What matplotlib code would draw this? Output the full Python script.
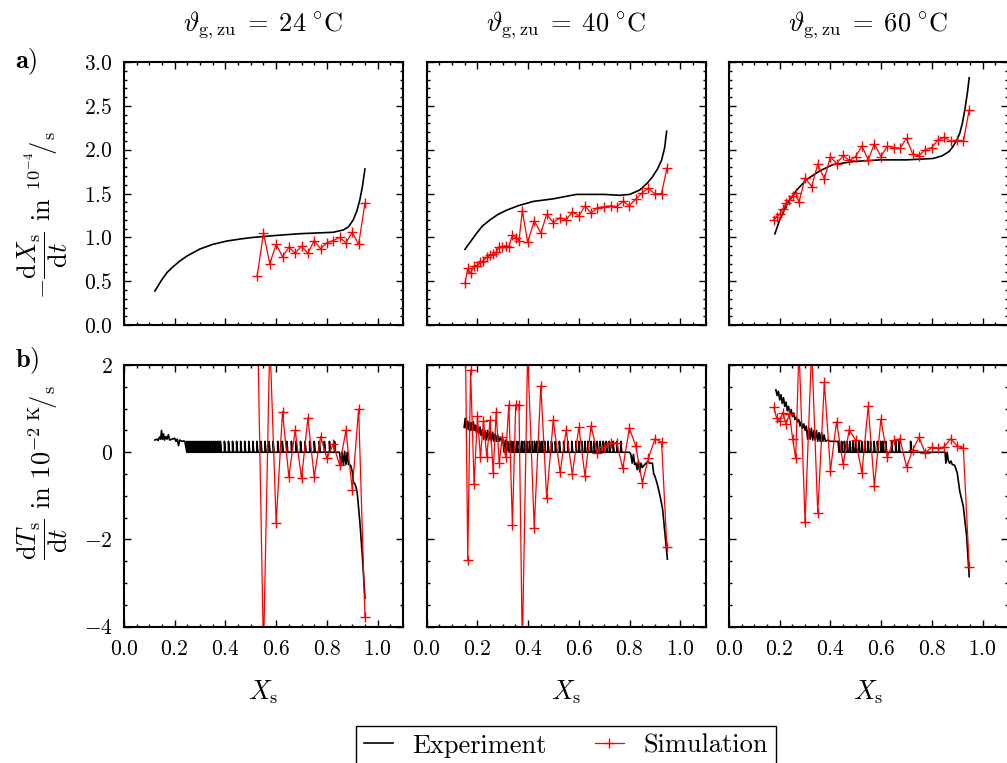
import matplotlib
matplotlib.use("Agg")
import matplotlib.pyplot as plt
from matplotlib.ticker import MultipleLocator

plt.rcParams["font.family"] = "serif"
plt.rcParams["font.serif"] = ["cmr10"]
plt.rcParams["mathtext.fontset"] = "cm"
plt.rcParams["axes.formatter.use_mathtext"] = True

# column titles (inlet gas temperature)
temps = ["24", "40", "60"]

# ---- row a): drying rate, experiment ----
exp_a_x = [
    [0.122, 0.135, 0.15, 0.17, 0.194, 0.22, 0.25, 0.30, 0.35, 0.405, 0.46, 0.51,
     0.6, 0.694, 0.76, 0.825, 0.865, 0.885, 0.904, 0.918, 0.93, 0.94, 0.95],
    [0.151, 0.175, 0.197, 0.22, 0.25, 0.28, 0.315, 0.36, 0.42, 0.5, 0.59, 0.70,
     0.76, 0.80, 0.84, 0.87, 0.89, 0.91, 0.926, 0.938, 0.946],
    [0.181, 0.20, 0.227, 0.267, 0.306, 0.359, 0.41, 0.49, 0.595, 0.70, 0.805,
     0.84, 0.868, 0.884, 0.90, 0.91, 0.92, 0.93, 0.94, 0.947],
]
exp_a_y = [
    [0.388, 0.45, 0.52, 0.60, 0.666, 0.73, 0.79, 0.868, 0.92, 0.958, 0.982, 1.0,
     1.022, 1.042, 1.05, 1.058, 1.085, 1.12, 1.2, 1.3, 1.43, 1.58, 1.78],
    [0.864, 0.96, 1.047, 1.13, 1.2, 1.26, 1.31, 1.36, 1.41, 1.44, 1.49, 1.49,
     1.48, 1.49, 1.54, 1.62, 1.69, 1.78, 1.88, 2.02, 2.21],
    [1.04, 1.2, 1.37, 1.54, 1.66, 1.76, 1.83, 1.865, 1.884, 1.884, 1.90, 1.93,
     1.98, 2.04, 2.12, 2.19, 2.3, 2.46, 2.65, 2.82],
]

# ---- simulation X positions (shared by both rows of a column) ----
sim_x = [
    [0.525, 0.55, 0.575, 0.60, 0.625, 0.65, 0.675, 0.70, 0.725, 0.75, 0.775,
     0.80, 0.825, 0.85, 0.875, 0.90, 0.925, 0.95],
    [0.151, 0.162, 0.173, 0.187, 0.200, 0.212, 0.224, 0.237, 0.250, 0.262,
     0.274, 0.286, 0.298, 0.311, 0.324, 0.338, 0.351, 0.364, 0.377, 0.398,
     0.424, 0.450, 0.473, 0.499, 0.526, 0.550, 0.574, 0.600, 0.624, 0.648,
     0.673, 0.700, 0.725, 0.749, 0.773, 0.799, 0.824, 0.850, 0.874, 0.900,
     0.926, 0.947],
    [0.177, 0.188, 0.20, 0.212, 0.225, 0.238, 0.251, 0.263, 0.276, 0.30, 0.326,
     0.35, 0.376, 0.40, 0.424, 0.45, 0.474, 0.499, 0.524, 0.549, 0.573, 0.599,
     0.624, 0.65, 0.674, 0.70, 0.724, 0.749, 0.773, 0.80, 0.823, 0.849, 0.874,
     0.899, 0.924, 0.947],
]
sim_a_y = [
    [0.56, 1.047, 0.70, 0.92, 0.78, 0.887, 0.82, 0.90, 0.82, 0.963, 0.87, 0.94,
     0.963, 1.0, 0.94, 1.058, 0.92, 1.39],
    [0.476, 0.647, 0.59, 0.678, 0.678, 0.716, 0.735, 0.773, 0.80, 0.81, 0.83,
     0.895, 0.895, 0.906, 0.895, 1.028, 0.997, 0.963, 1.306, 0.944, 1.19,
     1.047, 1.264, 1.169, 1.226, 1.2, 1.29, 1.245, 1.359, 1.275, 1.34, 1.35,
     1.359, 1.35, 1.41, 1.363, 1.435, 1.51, 1.56, 1.496, 1.50, 1.79],
    [1.2, 1.237, 1.264, 1.325, 1.39, 1.427, 1.473, 1.51, 1.40, 1.675, 1.58,
     1.835, 1.667, 1.922, 1.84, 1.934, 1.877, 1.922, 2.04, 1.884, 2.067, 1.922,
     2.04, 2.025, 2.017, 2.13, 1.95, 1.93, 2.0, 2.025, 2.11, 2.143, 2.094, 2.11,
     2.094, 2.455],
]
sim_b_y = [
    [3.5, -4.6, 2.6, -1.62, 0.93, -0.56, 0.50, -0.60, 0.78, -0.56, 0.36, -0.14,
     0.19, -0.29, 0.50, -0.86, 0.99, -3.78],
    [3.5, -2.48, 1.89, -0.73, 0.82, -0.10, 0.72, -0.10, 0.74, -0.47, 0.92,
     -0.25, 0.36, -0.10, 1.09, -1.67, 1.09, 1.09, -4.5, 2.3, -1.73, 1.53, -1.05,
     0.74, -0.46, 0.51, -0.50, 0.57, -0.54, 0.60, -0.01, 0.11, 0.21, 0.22,
     -0.37, 0.55, 0.15, -0.70, -0.14, 0.31, 0.23, -2.18],
    [1.03, 0.78, 0.72, 0.91, 0.65, 0.88, 0.31, -0.14, 2.4, -1.61, 2.4, -1.40,
     1.60, -0.42, 0.70, -0.27, 0.51, 0.28, -0.47, 1.06, -0.77, 0.76, -0.11,
     0.27, 0.31, -0.34, 0.05, 0.34, -0.01, 0.11, 0.09, 0.13, 0.31, 0.15, 0.09,
     -2.62],
]

# ---- row b): temperature rate, experiment (noisy start, quantisation spikes, drop) ----
exp_b_pre_x = [
    [0.122, 0.13, 0.135, 0.14, 0.145, 0.148, 0.152, 0.156, 0.16, 0.165, 0.17,
     0.175, 0.18, 0.19, 0.2, 0.205, 0.21, 0.215, 0.22, 0.225, 0.23, 0.235, 0.24],
    [0.148, 0.152, 0.156, 0.16, 0.164, 0.168, 0.172, 0.176, 0.18, 0.184, 0.188,
     0.192, 0.196, 0.2, 0.205, 0.21, 0.215, 0.22, 0.225, 0.23, 0.235, 0.24,
     0.245, 0.25, 0.255, 0.26, 0.265, 0.27, 0.275, 0.28, 0.285, 0.29, 0.295,
     0.3, 0.305, 0.31, 0.315, 0.32, 0.325, 0.33],
    [0.185, 0.19, 0.195, 0.2, 0.205, 0.21, 0.215, 0.22, 0.225, 0.23, 0.235,
     0.24, 0.245, 0.25, 0.255, 0.26, 0.265, 0.27, 0.275, 0.28, 0.285, 0.29,
     0.295, 0.30, 0.305, 0.31, 0.315, 0.32, 0.325, 0.33, 0.335, 0.34, 0.345,
     0.35, 0.355, 0.36, 0.365, 0.37, 0.375, 0.38, 0.39, 0.40, 0.41, 0.42, 0.43],
]
exp_b_pre_y = [
    [0.28, 0.30, 0.27, 0.35, 0.30, 0.50, 0.30, 0.42, 0.28, 0.36, 0.30, 0.40,
     0.28, 0.30, 0.32, 0.25, 0.30, 0.15, 0.28, 0.26, 0.25, 0.26, 0.25],
    [0.57, 0.78, 0.55, 0.72, 0.52, 0.70, 0.50, 0.68, 0.50, 0.70, 0.50, 0.62,
     0.45, 0.60, 0.42, 0.58, 0.38, 0.52, 0.30, 0.50, 0.28, 0.50, 0.28, 0.48,
     0.25, 0.46, 0.25, 0.42, 0.25, 0.40, 0.25, 0.35, 0.25, 0.30, 0.0, 0.28,
     0.0, 0.25, 0.0, 0.25],
    [1.43, 1.3, 1.4, 1.2, 1.32, 1.12, 1.25, 1.05, 1.15, 0.95, 1.05, 0.9, 0.98,
     0.82, 0.9, 0.75, 0.8, 0.7, 0.75, 0.6, 0.7, 0.55, 0.65, 0.5, 0.6, 0.3,
     0.55, 0.3, 0.55, 0.28, 0.5, 0.28, 0.5, 0.25, 0.45, 0.25, 0.45, 0.25, 0.4,
     0.25, 0.28, 0.25, 0.25, 0.25, 0.25],
]
spike_x = [
    [0.248, 0.256, 0.264, 0.272, 0.28, 0.288, 0.296, 0.304, 0.312, 0.32, 0.328,
     0.336, 0.344, 0.352, 0.36, 0.368, 0.374, 0.38, 0.396, 0.412, 0.428, 0.444,
     0.46, 0.476, 0.492, 0.508, 0.524, 0.54, 0.556, 0.572, 0.588, 0.606, 0.624,
     0.642, 0.66, 0.678, 0.696, 0.714, 0.732, 0.75, 0.77, 0.79, 0.81, 0.83],
    [0.335, 0.345, 0.355, 0.365, 0.375, 0.385, 0.395, 0.405, 0.415, 0.425,
     0.435, 0.445, 0.455, 0.465, 0.478, 0.492, 0.507, 0.523, 0.54, 0.556,
     0.572, 0.588, 0.60, 0.612, 0.624, 0.636, 0.648, 0.66, 0.672, 0.684, 0.696,
     0.708, 0.72, 0.735, 0.75, 0.765],
    [0.434, 0.444, 0.455, 0.466, 0.477, 0.489, 0.499, 0.512, 0.523, 0.535,
     0.547, 0.558, 0.572, 0.585, 0.598, 0.607, 0.618, 0.641, 0.657, 0.67, 0.716],
]
spike_h = 0.25
exp_b_post_x = [
    [0.85, 0.855, 0.86, 0.865, 0.87, 0.875, 0.88, 0.885, 0.89, 0.895, 0.90,
     0.905, 0.91, 0.915, 0.92, 0.93, 0.94, 0.95],
    [0.80, 0.805, 0.81, 0.815, 0.82, 0.825, 0.83, 0.835, 0.84, 0.845, 0.85,
     0.86, 0.87, 0.88, 0.89, 0.895, 0.90, 0.91, 0.92, 0.93, 0.94, 0.949],
    [0.84, 0.852, 0.855, 0.86, 0.865, 0.87, 0.875, 0.88, 0.89, 0.90, 0.91,
     0.924, 0.937, 0.947],
]
exp_b_post_y = [
    [0, -0.28, 0, -0.3, 0.02, -0.28, 0, -0.28, -0.28, -0.32, -0.45, -0.7,
     -0.72, -0.8, -0.95, -1.6, -2.4, -3.35],
    [0, -0.05, -0.25, -0.05, -0.28, -0.25, -0.4, -0.2, -0.45, -0.25, -0.35,
     -0.28, -0.22, -0.25, -0.25, -0.5, -0.55, -0.75, -1.0, -1.3, -1.9, -2.45],
    [0, 0, -0.25, 0, -0.2, -0.25, -0.2, -0.28, -0.3, -0.48, -0.9, -1.25, -1.93,
     -2.85],
]


def exp_b_curve(i):
    xs, ys = list(exp_b_pre_x[i]), list(exp_b_pre_y[i])
    for s in spike_x[i]:
        xs += [s, s, s + 0.004]
        ys += [0, spike_h, 0]
    xs += exp_b_post_x[i]
    ys += exp_b_post_y[i]
    return xs, ys


fig = plt.figure(figsize=(10.07, 7.63), dpi=100)
lefts = [0.1231, 0.4237, 0.7239]
w = 0.2771
EXP = dict(color="black", lw=1.2)
SIM = dict(color="red", lw=0.9, marker="+", ms=7, mew=1.0)


def style(ax):
    ax.tick_params(which="both", direction="in", top=True, right=True,
                   labelsize=15.5, width=1.0)
    ax.tick_params(which="major", length=5)
    ax.tick_params(which="minor", length=2.5)
    ax.tick_params(axis="x", pad=9)
    ax.tick_params(axis="y", pad=8)
    for sp in ax.spines.values():
        sp.set_linewidth(1.5)
    ax.set_xlim(0, 1.1)
    ax.xaxis.set_major_locator(MultipleLocator(0.2))
    ax.xaxis.set_minor_locator(MultipleLocator(0.05))


for i in range(3):
    ax = fig.add_axes([lefts[i], 0.574, w, 0.3447])
    ax.plot(exp_a_x[i], exp_a_y[i], **EXP)
    ax.plot(sim_x[i], sim_a_y[i], **SIM)
    style(ax)
    ax.set_ylim(0, 3.0)
    ax.yaxis.set_major_locator(MultipleLocator(0.5))
    ax.yaxis.set_minor_locator(MultipleLocator(0.1))
    ax.set_xticklabels([])
    if i > 0:
        ax.set_yticklabels([])
    ax.set_title(r"$\vartheta_{\mathrm{g,zu}}\;=\;%s\;^{\circ}\mathrm{C}$" % temps[i],
                 fontsize=19, pad=22)

    bx = fig.add_axes([lefts[i], 0.1786, w, 0.343])
    ex, ey = exp_b_curve(i)
    l1, = bx.plot(ex, ey, **EXP)
    l2, = bx.plot(sim_x[i], sim_b_y[i], **SIM)
    style(bx)
    bx.set_ylim(-4, 2)
    bx.yaxis.set_major_locator(MultipleLocator(2))
    bx.yaxis.set_minor_locator(MultipleLocator(0.5))
    if i > 0:
        bx.set_yticklabels([])
    bx.set_xlabel(r"$X_\mathrm{s}$", fontsize=19, labelpad=14)

fig.text(0.042, 0.718,
         r"$-\dfrac{\mathrm{d}X_\mathrm{s}}{\mathrm{d}t}$ in ${}^{10^{-4}}\!/{}_\mathrm{s}$",
         rotation=90, ha="center", va="center", fontsize=19)
fig.text(0.042, 0.381,
         r"$\dfrac{\mathrm{d}T_\mathrm{s}}{\mathrm{d}t}$ in $10^{-2}\,{}^\mathrm{K}\!/{}_\mathrm{s}$",
         rotation=90, ha="center", va="center", fontsize=19)
fig.text(0.026, 0.919, r"$\mathbf{a)}$", ha="center", va="center", fontsize=19)
fig.text(0.027, 0.527, r"$\mathbf{b)}$", ha="center", va="center", fontsize=19)

fig.legend([l1, l2], ["Experiment", "Simulation"], ncol=2, loc="upper center",
           bbox_to_anchor=(0.562, 0.0485), borderaxespad=0, fontsize=19,
           frameon=True, fancybox=False, edgecolor="black", framealpha=1,
           handlelength=1.1, columnspacing=1.8, borderpad=0.3, handletextpad=0.75)
fig.legends[0].get_frame().set_linewidth(1.0)

fig.savefig("out.png", dpi=100)
